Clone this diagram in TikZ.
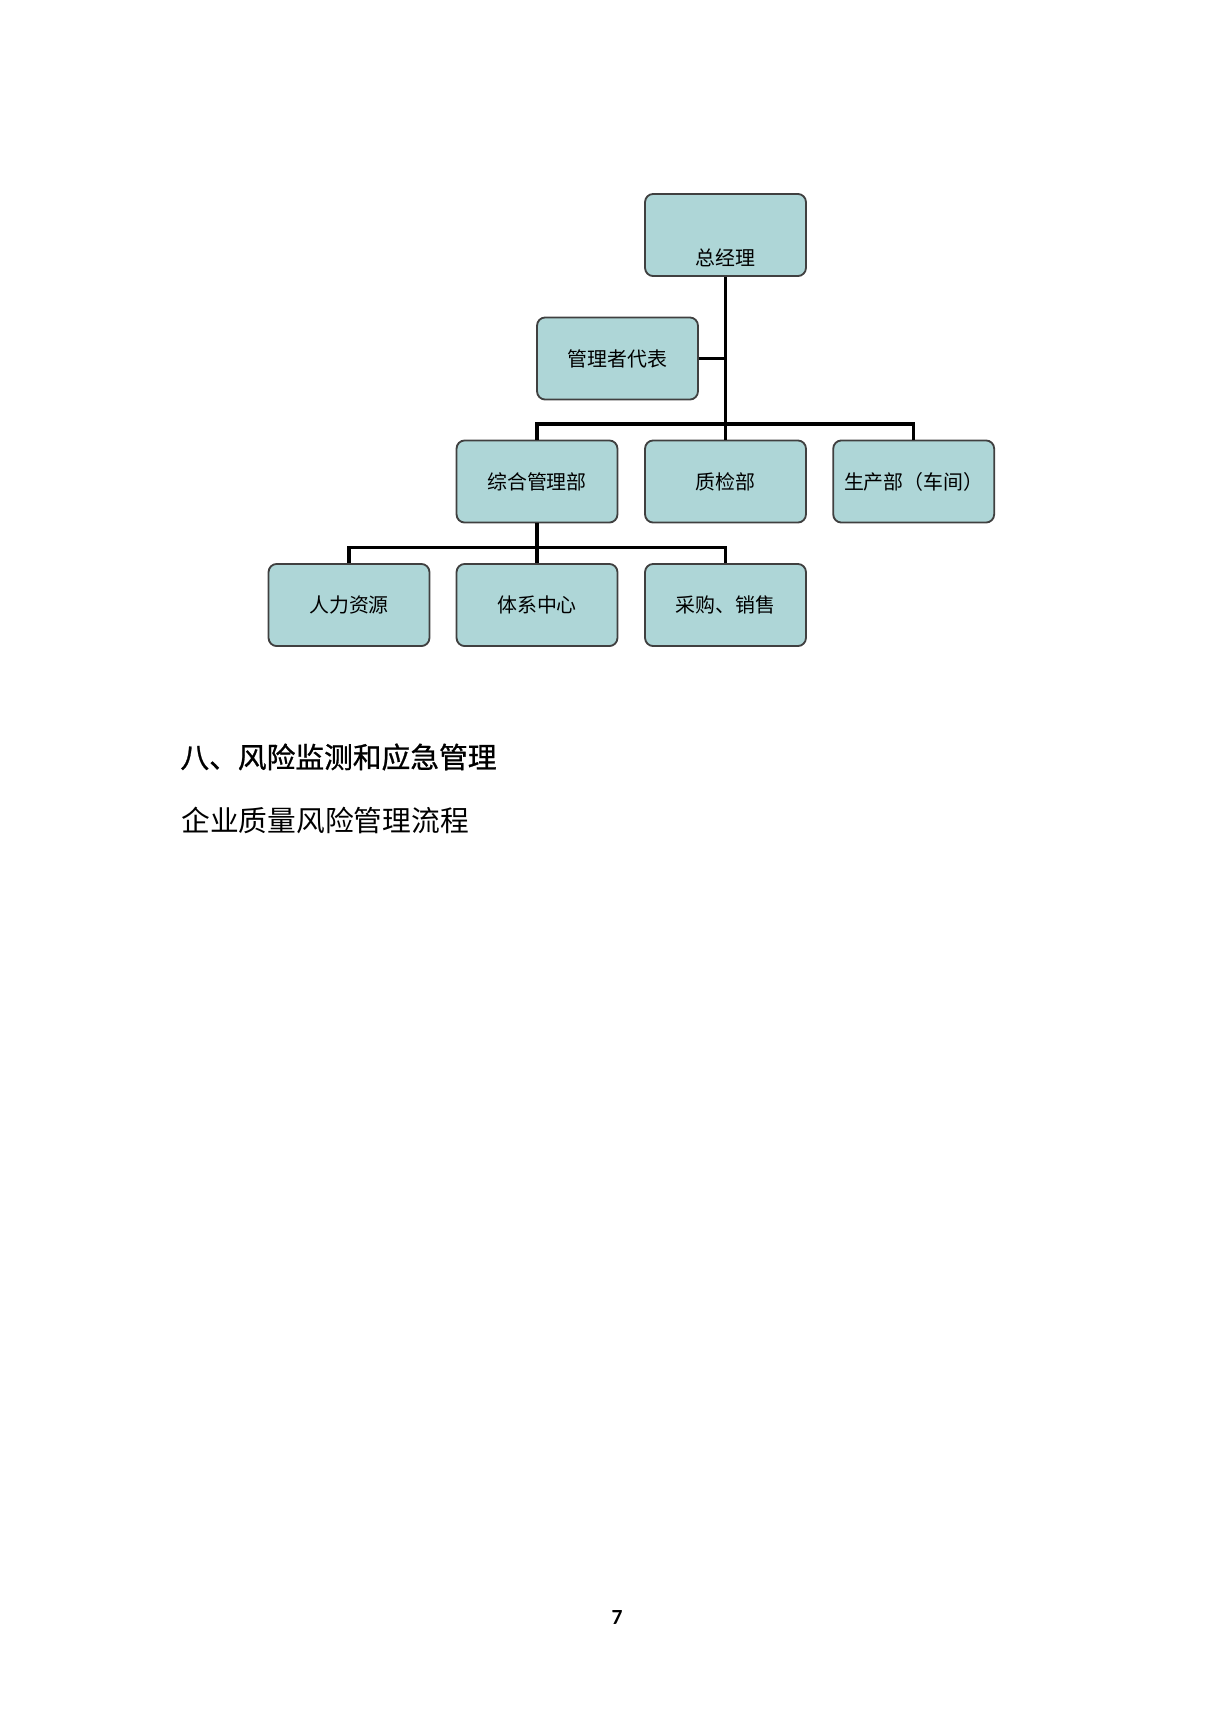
\documentclass[tikz,border=0pt]{standalone}
\usepackage{fontspec}
\setmainfont{Carlito}
\newfontfamily\cjk{Noto Sans CJK SC}
\newfontfamily\cjkhead[FakeBold=0.9]{Noto Sans CJK SC}
\definecolor{boxteal}{RGB}{174,214,215}
\definecolor{boxline}{RGB}{64,64,64}

\begin{document}
\begin{tikzpicture}[x=0.4871pt,y=-0.4871pt,
    orgbox/.style={draw=boxline,line width=0.9pt,fill=boxteal,rounded corners=4pt,
        minimum width=78.4pt,minimum height=40pt,inner sep=0pt,
        font=\cjk\fontsize{9.7}{11}\selectfont},
    link/.style={line width=1.5pt,black},
    heading/.style={anchor=west,inner sep=0pt,font=\cjk\fontsize{14}{16}\selectfont}]%
    \useasboundingbox (0,0) rectangle (1222,1727);%
    % org chart boxes
    \node[orgbox] (gm) at (725.5,235) {\raisebox{-14.9pt}[0pt][0pt]{总经理}};%
    \node[orgbox] (rep) at (617.5,358.5) {管理者代表};%
    \node[orgbox] (admin) at (537,481.5) {综合管理部};%
    \node[orgbox] (qc) at (725.5,481.5) {质检部};%
    \node[orgbox] (prod) at (913.7,481.5) {生产部（车间）};%
    \node[orgbox] (hr) at (349,605) {人力资源};%
    \node[orgbox] (sys) at (537,605) {体系中心};%
    \node[orgbox] (buy) at (725.5,605) {采购、销售};%
    % connectors
    \coordinate (bus1) at (725.5,424);%
    \coordinate (bus2) at (537,547.7);%
    \draw[link] (gm.south) -- (bus1);%
    \draw[link] (rep.east) -- (rep.east -| bus1);%
    \draw[link] (admin.north) |- (bus1) -| (prod.north);%
    \draw[link] (bus1) -- (qc.north);%
    \draw[link] (admin.south) -- (bus2);%
    \draw[link] (hr.north) |- (bus2) -| (buy.north);%
    \draw[link] (bus2) -- (sys.north);%
    % text below
    \node[heading,font=\cjkhead\fontsize{14}{16}\selectfont] (sect) at (180,757) {八、风险监测和应急管理};%
    \node[heading] (sub) at (181,820) {企业质量风险管理流程};%
    \node[font=\bfseries\fontsize{10.5}{12}\selectfont] (pagenum) at (617,1617) {7};%
\end{tikzpicture}
\end{document}
